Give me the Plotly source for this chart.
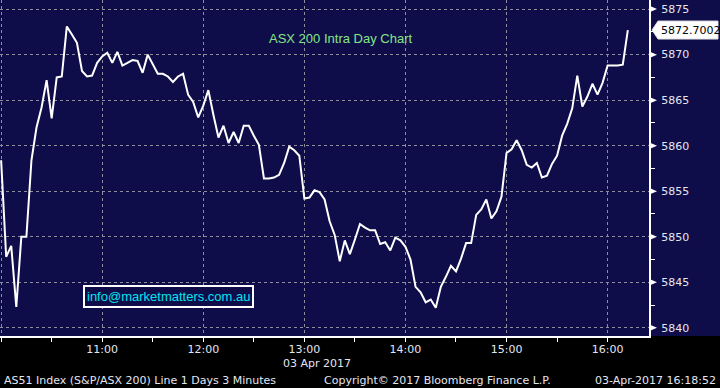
import plotly.graph_objects as go
import pandas as pd

# ---------------- data ----------------
values = [
    5858.4, 5847.8, 5849.0, 5842.3, 5850.0, 5850.0, 5858.4, 5862.0, 5864.2, 5867.2,
    5863.0, 5867.5, 5867.6, 5873.1, 5872.2, 5871.3, 5868.2, 5867.6, 5867.7, 5869.1,
    5869.8, 5870.2, 5869.1, 5870.3, 5868.8, 5869.1, 5869.4, 5869.3, 5868.0, 5870.0,
    5869.0, 5867.9, 5867.9, 5867.6, 5867.0, 5867.6, 5867.9, 5865.6, 5864.8, 5863.1,
    5864.4, 5866.1, 5863.4, 5860.9, 5862.2, 5860.3, 5861.5, 5860.3, 5862.2, 5862.2,
    5861.1, 5860.1, 5856.4, 5856.4, 5856.5, 5856.8, 5858.1, 5859.9, 5859.5, 5858.9,
    5854.2, 5854.3, 5855.1, 5854.9, 5854.1, 5851.7, 5850.2, 5847.3, 5849.6, 5848.1,
    5849.7, 5851.4, 5851.0, 5850.7, 5850.7, 5849.2, 5849.4, 5848.5, 5849.9, 5849.6,
    5848.9, 5847.5, 5844.5, 5843.9, 5842.8, 5843.1, 5842.2, 5844.5, 5845.6, 5846.8,
    5846.2, 5847.6, 5849.3, 5849.3, 5852.4, 5853.0, 5854.1, 5852.0, 5852.8, 5854.4,
    5859.2, 5859.6, 5860.6, 5859.5, 5857.9, 5857.6, 5858.1, 5856.5, 5856.7, 5858.0,
    5858.9, 5861.1, 5862.4, 5864.1, 5867.7, 5864.3, 5865.4, 5866.8, 5865.6, 5866.9,
    5868.8, 5868.8, 5868.8, 5868.9, 5872.7002,
]
times = pd.date_range("2017-04-03 10:00", periods=len(values), freq="3min")

y_ticks = [5840, 5845, 5850, 5855, 5860, 5865, 5870, 5875]
x_tick_times = ["2017-04-03 10:00", "2017-04-03 11:00", "2017-04-03 12:00",
                "2017-04-03 13:00", "2017-04-03 14:00", "2017-04-03 15:00",
                "2017-04-03 16:00"]
x_tick_labels = ["", "11:00", "12:00", "13:00", "14:00", "15:00", "16:00"]

title_text = "ASX 200 Intra Day Chart"
info_text = "info@marketmatters.com.au"
date_text = "03 Apr 2017"
footer_left = "AS51 Index (S&P/ASX 200) Line 1 Days 3 Minutes"
footer_mid = "Copyright\u00a9 2017 Bloomberg Finance L.P."
footer_right = "03-Apr-2017 16:18:52"

# ---------------- layout geometry ----------------
W, H = 720, 388
PLOT_W, PLOT_H = 649, 336
Y_RANGE = [5839.1, 5876.0]
NAVY = "#0f0d49"
GRID = "#8e8e9a"
TXT = "#e4e6f0"
px_per_unit = PLOT_H / (Y_RANGE[1] - Y_RANGE[0])


def px_x(x):
    return x / PLOT_W


def px_y(y):
    return 1 - y / PLOT_H


fig = go.Figure()
fig.add_trace(go.Scatter(x=times, y=values, mode="lines",
                         line=dict(color="white", width=2),
                         hoverinfo="skip", showlegend=False))

shapes = []
# navy panel extending behind the right-hand labels
shapes.append(dict(type="rect", xref="paper", yref="paper",
                   x0=0, x1=W / PLOT_W, y0=0, y1=1,
                   fillcolor=NAVY, line=dict(width=0), layer="below"))
# triangular tick markers on the right axis
h = 3 / px_per_unit
for v in y_ticks:
    shapes.append(dict(type="path", xref="paper", yref="y",
                       path=f"M {px_x(650)},{v + h} L {px_x(657)},{v} L {px_x(650)},{v - h} Z",
                       fillcolor="white", line=dict(width=0), layer="above"))
# last value tag
last = values[-1]
bh = 9 / px_per_unit
shapes.append(dict(type="path", xref="paper", yref="y",
                   path=(f"M {px_x(652)},{last} L {px_x(658)},{last + bh} "
                         f"L {px_x(718)},{last + bh} L {px_x(718)},{last - bh} "
                         f"L {px_x(658)},{last - bh} Z"),
                   fillcolor="white", line=dict(color="#dddddd", width=1), layer="above"))

annotations = [
    dict(text=title_text, xref="paper", yref="paper", x=px_x(340), y=px_y(38),
         xanchor="center", yanchor="middle", showarrow=False,
         font=dict(family="Liberation Sans", size=13, color="#86e486")),
    dict(text=info_text, xref="paper", yref="paper", x=px_x(168), y=px_y(296),
         xanchor="center", yanchor="middle", showarrow=False,
         bgcolor=NAVY, bordercolor="white", borderwidth=2, borderpad=2,
         font=dict(family="Liberation Sans", size=13, color="#00e4f0")),
    dict(text=f"{last:.4f}", xref="paper", yref="y", x=px_x(659), y=last,
         xanchor="left", yanchor="middle", showarrow=False,
         font=dict(family="DejaVu Sans", size=11, color="black")),
    dict(text=date_text, xref="paper", yref="paper", x=px_x(281), y=px_y(363),
         xanchor="left", yanchor="middle", showarrow=False,
         font=dict(family="DejaVu Sans", size=11, color=TXT)),
    dict(text=footer_left, xref="paper", yref="paper", x=px_x(2), y=px_y(380),
         xanchor="left", yanchor="middle", showarrow=False,
         font=dict(family="DejaVu Sans", size=11, color=TXT)),
    dict(text=footer_mid, xref="paper", yref="paper", x=px_x(322), y=px_y(380),
         xanchor="left", yanchor="middle", showarrow=False,
         font=dict(family="DejaVu Sans", size=11, color=TXT)),
    dict(text=footer_right, xref="paper", yref="paper", x=px_x(718), y=px_y(380),
         xanchor="right", yanchor="middle", showarrow=False,
         font=dict(family="DejaVu Sans", size=11, color=TXT)),
]

fig.update_layout(
    width=W, height=H,
    margin=dict(l=0, r=W - PLOT_W, t=0, b=H - PLOT_H, pad=0),
    paper_bgcolor="black", plot_bgcolor=NAVY,
    shapes=shapes, annotations=annotations,
    showlegend=False,
    xaxis=dict(type="date",
               range=["2017-04-03 09:59:20", "2017-04-03 16:24:34"],
               tickmode="array", tickvals=x_tick_times, ticktext=x_tick_labels,
               ticks="outside", ticklen=4, tickcolor="white", tickwidth=1,
               ticklabelstandoff=-2,
               showline=True, linecolor="white", linewidth=2,
               showgrid=True, gridcolor=GRID, gridwidth=1, griddash="3px,3px",
               zeroline=False,
               minor=dict(dtick=1800000, tick0="2017-04-03 10:00", ticks="outside",
                          ticklen=4, tickcolor="white", showgrid=False),
               tickfont=dict(family="DejaVu Sans", size=11, color=TXT)),
    yaxis=dict(side="right", range=Y_RANGE,
               tickmode="array", tickvals=y_ticks,
               ticks="outside", ticklen=8, tickcolor=NAVY,
               showline=True, linecolor="white", linewidth=2,
               showgrid=True, gridcolor=GRID, gridwidth=1, griddash="3px,3px",
               zeroline=False,
               minor=dict(dtick=2.5, tick0=5840, ticks="outside", ticklen=4,
                          tickcolor="white", showgrid=False),
               tickfont=dict(family="DejaVu Sans", size=11, color=TXT)),
)

fig.write_html(
    "out.html",
    config={"displayModeBar": False},
    post_script="document.body.style.margin='0';document.body.style.padding='0';"
                "document.body.style.overflow='hidden';",
)
